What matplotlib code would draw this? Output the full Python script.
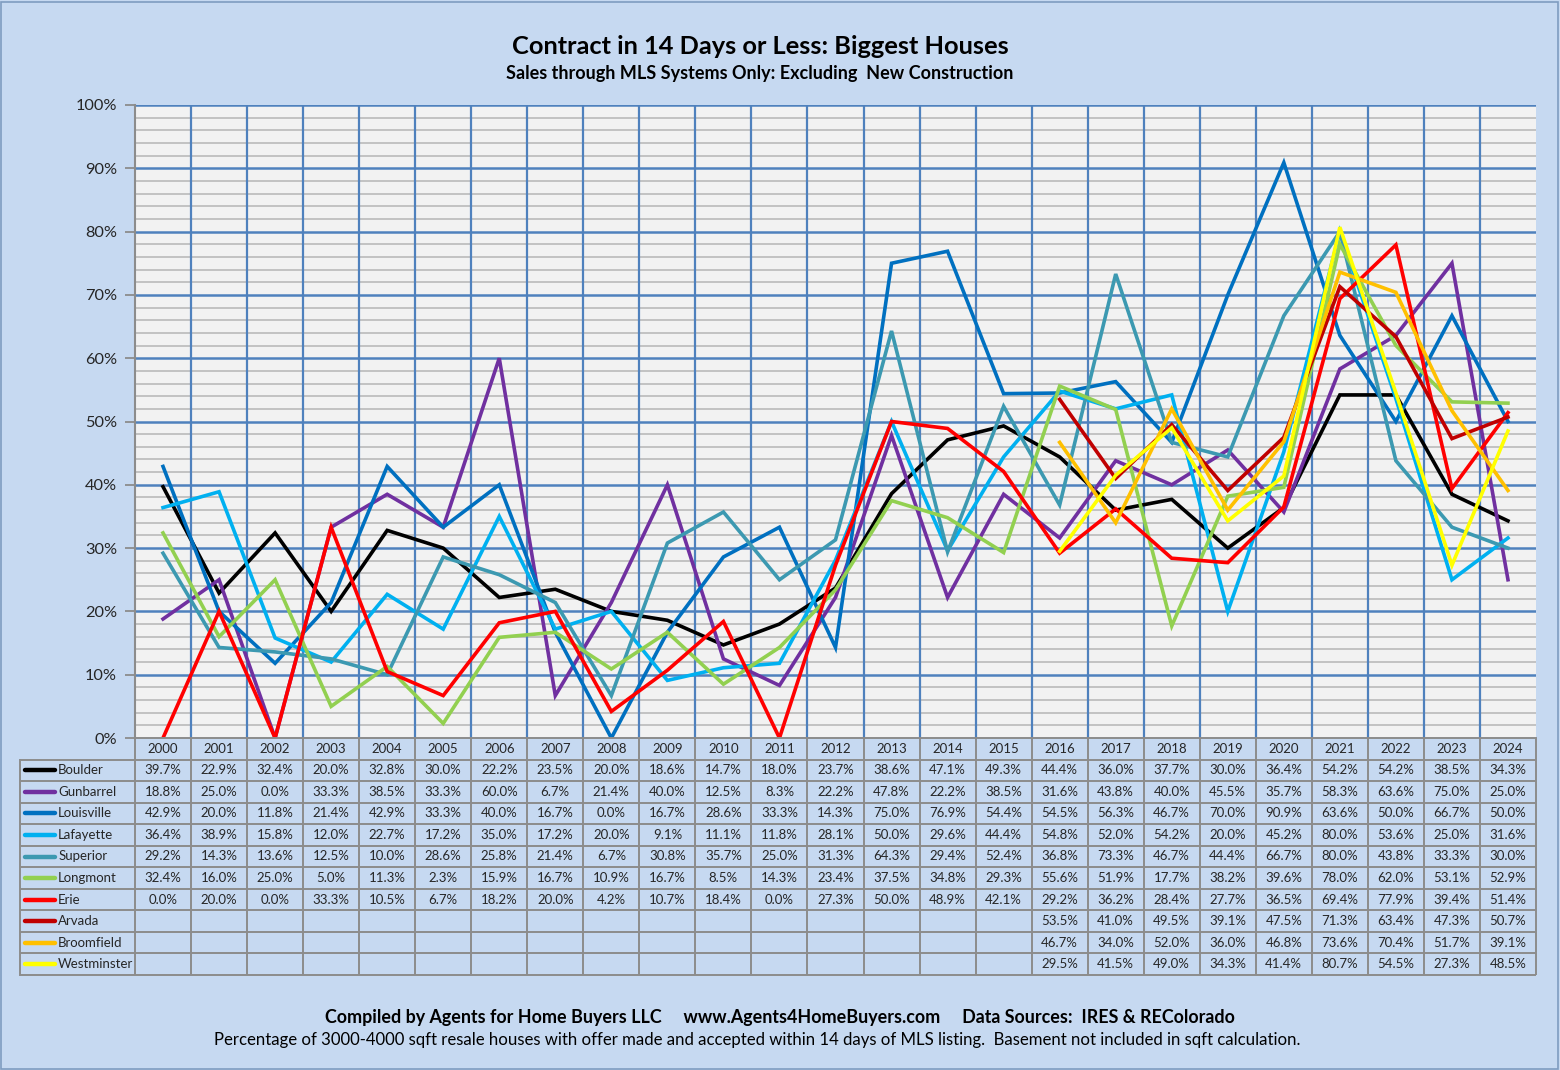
import matplotlib
matplotlib.use("Agg")
import matplotlib.pyplot as plt
import numpy as np
from matplotlib.patches import Rectangle

plt.rcParams['font.family'] = ['Lato', 'DejaVu Sans']

years = [str(y) for y in range(2000, 2025)]
series_names = ["Boulder", "Gunbarrel", "Louisville", "Lafayette", "Superior",
                "Longmont", "Erie", "Arvada", "Broomfield", "Westminster"]
N = None
boulder = [39.7, 22.9, 32.4, 20.0, 32.8, 30.0, 22.2, 23.5, 20.0, 18.6, 14.7, 18.0, 23.7, 38.6, 47.1, 49.3,
           44.4, 36.0, 37.7, 30.0, 36.4, 54.2, 54.2, 38.5, 34.3]
gunbarrel = [18.8, 25.0, 0.0, 33.3, 38.5, 33.3, 60.0, 6.7, 21.4, 40.0, 12.5, 8.3, 22.2, 47.8, 22.2, 38.5,
             31.6, 43.8, 40.0, 45.5, 35.7, 58.3, 63.6, 75.0, 25.0]
louisville = [42.9, 20.0, 11.8, 21.4, 42.9, 33.3, 40.0, 16.7, 0.0, 16.7, 28.6, 33.3, 14.3, 75.0, 76.9, 54.4,
              54.5, 56.3, 46.7, 70.0, 90.9, 63.6, 50.0, 66.7, 50.0]
lafayette = [36.4, 38.9, 15.8, 12.0, 22.7, 17.2, 35.0, 17.2, 20.0, 9.1, 11.1, 11.8, 28.1, 50.0, 29.6, 44.4,
             54.8, 52.0, 54.2, 20.0, 45.2, 80.0, 53.6, 25.0, 31.6]
superior = [29.2, 14.3, 13.6, 12.5, 10.0, 28.6, 25.8, 21.4, 6.7, 30.8, 35.7, 25.0, 31.3, 64.3, 29.4, 52.4,
            36.8, 73.3, 46.7, 44.4, 66.7, 80.0, 43.8, 33.3, 30.0]
longmont = [32.4, 16.0, 25.0, 5.0, 11.3, 2.3, 15.9, 16.7, 10.9, 16.7, 8.5, 14.3, 23.4, 37.5, 34.8, 29.3,
            55.6, 51.9, 17.7, 38.2, 39.6, 78.0, 62.0, 53.1, 52.9]
erie = [0.0, 20.0, 0.0, 33.3, 10.5, 6.7, 18.2, 20.0, 4.2, 10.7, 18.4, 0.0, 27.3, 50.0, 48.9, 42.1,
        29.2, 36.2, 28.4, 27.7, 36.5, 69.4, 77.9, 39.4, 51.4]
arvada = [N] * 16 + [53.5, 41.0, 49.5, 39.1, 47.5, 71.3, 63.4, 47.3, 50.7]
broomfield = [N] * 16 + [46.7, 34.0, 52.0, 36.0, 46.8, 73.6, 70.4, 51.7, 39.1]
westminster = [N] * 16 + [29.5, 41.5, 49.0, 34.3, 41.4, 80.7, 54.5, 27.3, 48.5]

series_values = [boulder, gunbarrel, louisville, lafayette, superior,
                 longmont, erie, arvada, broomfield, westminster]
colors = ["#000000", "#7030a0", "#0070c0", "#00b0f0", "#3c99b1",
          "#92d050", "#ff0000", "#c00000", "#ffc000", "#ffff00"]

title = "Contract in 14 Days or Less: Biggest Houses"
subtitle = "Sales through MLS Systems Only: Excluding  New Construction"
footer1 = "Compiled by Agents for Home Buyers LLC     www.Agents4HomeBuyers.com     Data Sources:  IRES & REColorado"
footer2 = "Percentage of 3000-4000 sqft resale houses with offer made and accepted within 14 days of MLS listing.  Basement not included in sqft calculation."

W, H = 1560, 1070
bg = "#c6d9f1"
fig = plt.figure(figsize=(W / 100, H / 100), dpi=100, facecolor=bg)
fig.patches.append(Rectangle((1 / W, 1 / H), (W - 3) / W, (H - 3) / H, transform=fig.transFigure,
                             fill=False, edgecolor="#7f9cc0", linewidth=1.2))

# main chart
pl, pr, pt, pb = 135, 1536, 105, 738
ax = fig.add_axes([pl / W, 1 - pb / H, (pr - pl) / W, (pb - pt) / H])
ax.set_facecolor("#f2f2f2")
n = len(years)
x = np.arange(n)
ax.set_xlim(-0.5, n - 0.5)
ax.set_ylim(0, 100)
for v in range(2, 100, 2):
    if v % 10:
        ax.axhline(v, color="#bfbfbf", linewidth=1.3, zorder=1)
for v in range(10, 101, 10):
    ax.axhline(v, color="#4f81bd", linewidth=1.8, zorder=1.5)
for k in range(1, n):
    ax.axvline(k - 0.5, color="#4f81bd", linewidth=1.6, zorder=1.5)
ax.set_yticks(range(0, 101, 10))
ax.set_yticklabels([f"{v}%" for v in range(0, 101, 10)], fontsize=11.8, color="#262626")
ax.set_xticks([])
ax.tick_params(axis="y", length=7, width=1.3, color="#8c8c8c", direction="out", pad=6)
for s in ["top", "right", "bottom"]:
    ax.spines[s].set_visible(False)
ax.spines["left"].set_color("#8c8c8c")
ax.spines["left"].set_linewidth(1.5)

for i, (name, vals, c) in enumerate(zip(series_names, series_values, colors)):
    y = np.array([np.nan if v is None else v for v in vals], dtype=float)
    ax.plot(x, y, color=c, linewidth=2.6, zorder=3 + i, solid_joinstyle="miter")

# data table
tl, tr, tt, tb = 20, 1536, 738, 975
tax = fig.add_axes([tl / W, 1 - tb / H, (tr - tl) / W, (tb - tt) / H])
unit = (pr - pl) / n
xleft = -0.5 - (pl - tl) / unit
tax.set_xlim(xleft, n - 0.5)
nrows = len(series_names) + 1
tax.set_ylim(nrows, 0)
tax.axis("off")
tax.add_patch(Rectangle((xleft, 1), (n - 0.5) - xleft, nrows - 1, facecolor=bg, edgecolor="none", zorder=0))
gc = "#8c8c8c"
for r in range(1, nrows + 1):
    tax.plot([xleft, n - 0.5], [r, r], color=gc, linewidth=1.4, clip_on=False, solid_capstyle="butt")
tax.plot([-0.5, n - 0.5], [0, 0], color=gc, linewidth=1.4, clip_on=False)
for k in range(n + 1):
    tax.plot([k - 0.5, k - 0.5], [0, nrows], color=gc, linewidth=1.4, clip_on=False, solid_capstyle="butt")
tax.plot([xleft, xleft], [1, nrows], color=gc, linewidth=1.4, clip_on=False)

for k, yr in enumerate(years):
    tax.text(k, 0.5, yr, ha="center", va="center", fontsize=9.5, color="#262626")
for i, (name, vals, c) in enumerate(zip(series_names, series_values, colors)):
    r = i + 1.5
    tax.plot([xleft + 0.09, xleft + 0.62], [r, r], color=c, linewidth=3.2, solid_capstyle="round")
    tax.text(xleft + 0.68, r, name, ha="left", va="center", fontsize=9.5, color="#262626")
    for k, v in enumerate(vals):
        if v is not None:
            tax.text(k, r, f"{v:.1f}%", ha="center", va="center", fontsize=9.5, color="#262626")

fig.text(760 / W, 1 - 46 / H, title, ha="center", va="center", fontsize=18.3, fontweight="bold", color="#000000")
fig.text(760 / W, 1 - 74 / H, subtitle, ha="center", va="center", fontsize=13, fontweight="bold", color="#000000")
fig.text(780 / W, 1 - 1017 / H, footer1, ha="center", va="center", fontsize=12.9, fontweight="bold", color="#000000")
fig.text(757 / W, 1 - 1040 / H, footer2, ha="center", va="center", fontsize=12.05, color="#000000")

fig.savefig("out.png", dpi=100, facecolor=bg)
